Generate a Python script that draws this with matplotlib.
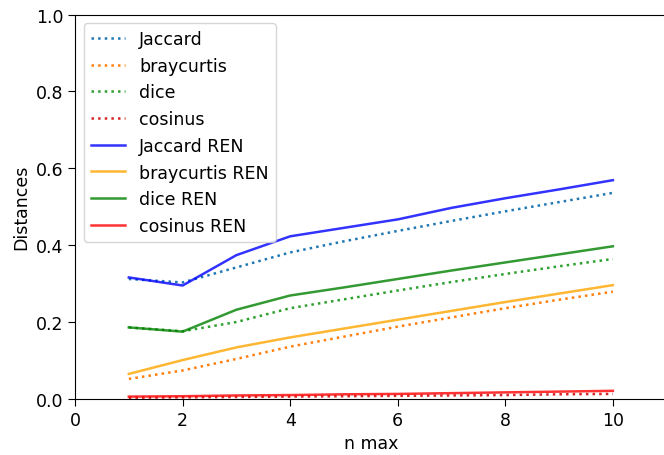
import numpy as np
import matplotlib
matplotlib.use("Agg")
import matplotlib.pyplot as plt

plt.rcParams['font.size'] = 12.5
plt.rcParams['xtick.major.size'] = 5
plt.rcParams['ytick.major.size'] = 5

# valeurs de n max
n_max = [1, 2, 3, 4, 5, 6, 7, 8, 9, 10]

# distances moyennes (sans REN)
jaccard = [0.312, 0.303, 0.342, 0.381, 0.410, 0.437, 0.463, 0.488, 0.512, 0.536]
braycurtis = [0.052, 0.074, 0.104, 0.136, 0.162, 0.188, 0.212, 0.236, 0.258, 0.279]
dice = [0.186, 0.176, 0.200, 0.236, 0.259, 0.282, 0.304, 0.325, 0.345, 0.364]
cosinus = [0.003, 0.004, 0.005, 0.006, 0.007, 0.008, 0.009, 0.010, 0.012, 0.013]

# distances moyennes avec REN
jaccard_ren = [0.316, 0.295, 0.374, 0.423, 0.445, 0.467, 0.497, 0.522, 0.545, 0.569]
braycurtis_ren = [0.065, 0.101, 0.134, 0.160, 0.183, 0.206, 0.229, 0.252, 0.274, 0.296]
dice_ren = [0.186, 0.175, 0.232, 0.269, 0.290, 0.312, 0.334, 0.355, 0.376, 0.397]
cosinus_ren = [0.006, 0.007, 0.009, 0.010, 0.012, 0.013, 0.015, 0.017, 0.019, 0.021]

fig = plt.figure(figsize=(6.64, 4.56), dpi=100)
ax = fig.add_axes([0.113, 0.123, 0.891, 0.843])

lw = 1.8
ax.plot(n_max, jaccard, ':', color='C0', linewidth=lw, label='Jaccard')
ax.plot(n_max, braycurtis, ':', color='C1', linewidth=lw, label='braycurtis')
ax.plot(n_max, dice, ':', color='C2', linewidth=lw, label='dice')
ax.plot(n_max, cosinus, ':', color='C3', linewidth=lw, label='cosinus')
ax.plot(n_max, jaccard_ren, color='blue', alpha=0.8, linewidth=lw, label='Jaccard REN')
ax.plot(n_max, braycurtis_ren, color='orange', alpha=0.8, linewidth=lw, label='braycurtis REN')
ax.plot(n_max, dice_ren, color='green', alpha=0.8, linewidth=lw, label='dice REN')
ax.plot(n_max, cosinus_ren, color='red', alpha=0.8, linewidth=lw, label='cosinus REN')

ax.set_xlim(0, 11)
ax.set_ylim(0, 1)
ax.set_xlabel('n max')
ax.set_ylabel('Distances')
ax.legend(loc='upper left')

fig.savefig('out.png', dpi=100)
